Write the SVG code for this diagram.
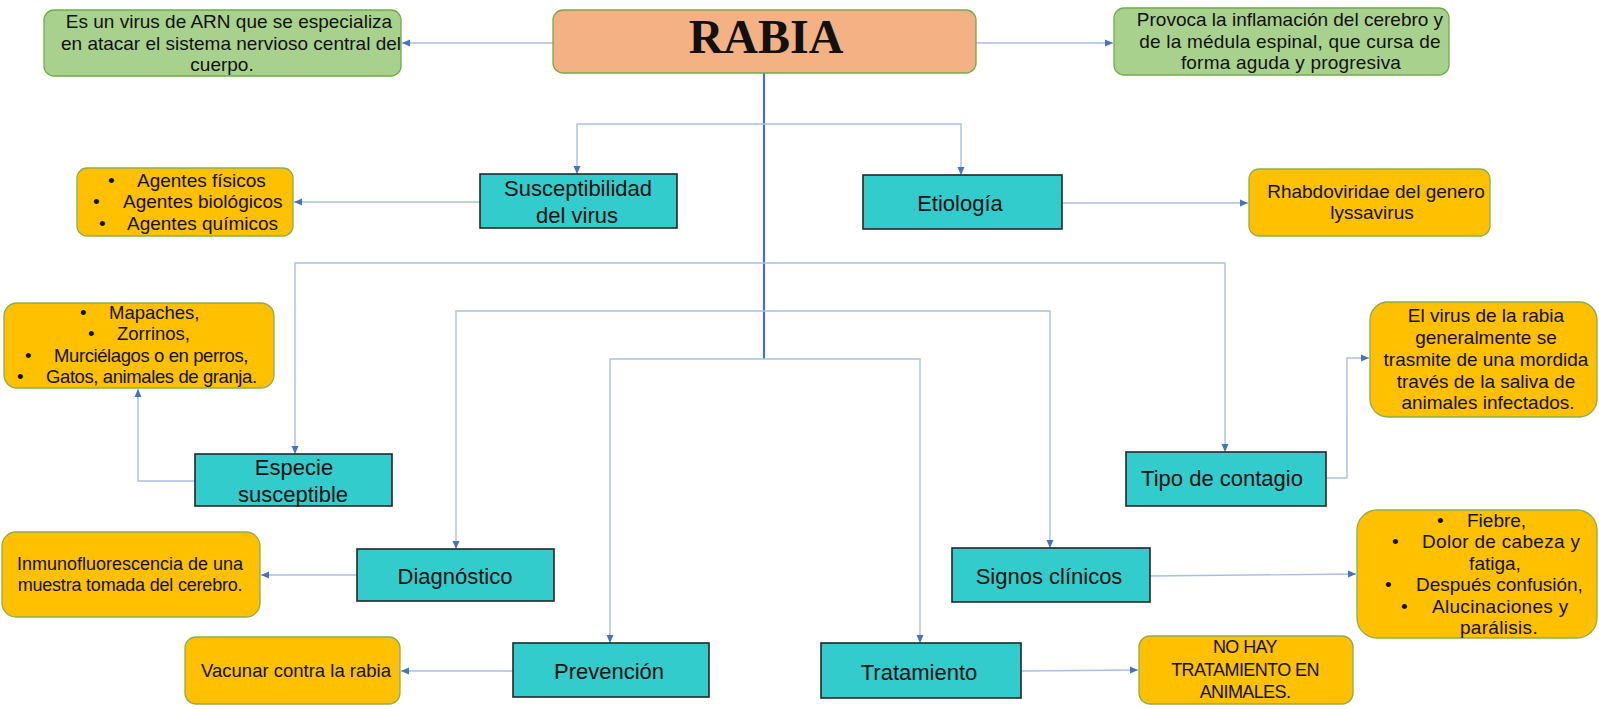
<svg xmlns="http://www.w3.org/2000/svg" width="1599" height="709" viewBox="0 0 1599 709">
<style>
text{font-family:"Liberation Sans",Arial,sans-serif;fill:#111}
.g{fill:#A9D18E;stroke:#70AD47;stroke-width:1.3}
.o{fill:#FFC000;stroke:#8AAE4E;stroke-width:1.3}
.t{fill:#33CCCC;stroke:#262626;stroke-width:1.6}
.r{fill:#F4B183;stroke:#70AD47;stroke-width:1.3}
.tt{font-size:22px;text-anchor:middle}
.s19{font-size:19px}
.s18{font-size:18.5px}
.m{text-anchor:middle}
.c{fill:none;stroke:#A9BEE6;stroke-width:1.4}
.trunk{fill:none;stroke:#4472C4;stroke-width:2.2}
</style>
<defs>
<marker id="ah" markerUnits="userSpaceOnUse" markerWidth="9" markerHeight="8" refX="8" refY="4" orient="auto">
<path d="M0,0.5 L8,4 L0,7.5 z" fill="#4472C4"/>
</marker>
</defs>
<rect width="1599" height="709" fill="#fff"/>
<g id="connectors">
<path class="trunk" d="M764,73 V359"/>
<path class="c" d="M553,43 H402" marker-end="url(#ah)"/>
<path class="c" d="M976,43 H1113" marker-end="url(#ah)"/>
<path class="c" d="M764,124 H577 V174" marker-end="url(#ah)"/>
<path class="c" d="M764,124 H961 V175" marker-end="url(#ah)"/>
<path class="c" d="M764,263 H295 V454" marker-end="url(#ah)"/>
<path class="c" d="M764,263 H1225 V452" marker-end="url(#ah)"/>
<path class="c" d="M764,311 H456 V549" marker-end="url(#ah)"/>
<path class="c" d="M764,311 H1050 V548" marker-end="url(#ah)"/>
<path class="c" d="M764,359 H610 V643" marker-end="url(#ah)"/>
<path class="c" d="M764,359 H920 V643" marker-end="url(#ah)"/>
<path class="c" d="M480,202 H294" marker-end="url(#ah)"/>
<path class="c" d="M1062,203 H1248" marker-end="url(#ah)"/>
<path class="c" d="M195,481 H138 V389" marker-end="url(#ah)"/>
<path class="c" d="M1326,478 H1347 V358 H1369" marker-end="url(#ah)"/>
<path class="c" d="M357,575 H261" marker-end="url(#ah)"/>
<path class="c" d="M1150,576 L1356,574" marker-end="url(#ah)"/>
<path class="c" d="M513,671 H401" marker-end="url(#ah)"/>
<path class="c" d="M1021,671 L1138,670" marker-end="url(#ah)"/>
</g>
<g id="rabia">
<rect class="r" x="553" y="10" width="423" height="63" rx="10"/>
<text x="766" y="53" text-anchor="middle" style="font-family:'Liberation Serif','Times New Roman',serif;font-weight:bold;font-size:48px" fill="#000">RABIA</text>
</g>
<g id="def-left">
<rect class="g" x="44" y="10" width="357" height="66" rx="10"/>
<text class="s19 m" x="229" y="28">Es un virus de ARN que se especializa</text>
<text class="s19 m" x="231" y="50">en atacar el sistema nervioso central del</text>
<text class="s19 m" x="222" y="71">cuerpo.</text>
</g>
<g id="def-right">
<rect class="g" x="1114" y="8" width="335" height="67" rx="10"/>
<text class="s19 m" x="1290" y="26">Provoca la inflamación del cerebro y</text>
<text class="s19 m" x="1290" y="48" letter-spacing="0.2">de la médula espinal, que cursa de</text>
<text class="s19 m" x="1291" y="69" letter-spacing="0.2">forma aguda y progresiva</text>
</g>
<g id="susceptibilidad">
<rect class="t" x="480" y="174" width="197" height="54"/>
<text class="tt" x="578" y="196">Susceptibilidad</text>
<text class="tt" x="577" y="223">del virus</text>
</g>
<g id="agentes">
<rect class="o" x="77" y="168" width="216" height="68" rx="10"/>
<text class="s19" x="108" y="187">•</text><text class="s19" x="137" y="187">Agentes físicos</text>
<text class="s19" x="93" y="208">•</text><text class="s19" x="123" y="208">Agentes biológicos</text>
<text class="s19" x="99" y="230">•</text><text class="s19" x="127" y="230">Agentes químicos</text>
</g>
<g id="etiologia">
<rect class="t" x="863" y="175" width="199" height="54"/>
<text class="tt" x="960" y="211">Etiología</text>
</g>
<g id="rhabdo">
<rect class="o" x="1249" y="169" width="241" height="67" rx="10"/>
<text class="s19 m" x="1376" y="198">Rhabdoviridae del genero</text>
<text class="s19 m" x="1372" y="219">lyssavirus</text>
</g>
<g id="especies">
<rect class="o" x="4" y="303" width="270" height="85" rx="13"/>
<text class="s18" x="80" y="319">•</text><text class="s18" x="109" y="319">Mapaches,</text>
<text class="s18" x="88" y="340">•</text><text class="s18" x="117" y="340">Zorrinos,</text>
<text class="s18" x="25" y="362">•</text><text class="s18" x="54" y="362" letter-spacing="-0.4">Murciélagos o en perros,</text>
<text class="s18" x="17" y="383">•</text><text class="s18" x="46" y="383" letter-spacing="-0.4">Gatos, animales de granja.</text>
</g>
<g id="especie-susceptible">
<rect class="t" x="195" y="454" width="197" height="52"/>
<text class="tt" x="294" y="475">Especie</text>
<text class="tt" x="293" y="502">susceptible</text>
</g>
<g id="tipo-contagio">
<rect class="t" x="1126" y="452" width="200" height="54"/>
<text class="tt" x="1222" y="486">Tipo de contagio</text>
</g>
<g id="contagio-texto">
<rect class="o" x="1370" y="302" width="227" height="115" rx="18"/>
<text class="s19 m" x="1486" y="322">El virus de la rabia</text>
<text class="s19 m" x="1486" y="344">generalmente se</text>
<text class="s19 m" x="1486" y="366">trasmite de una mordida</text>
<text class="s19 m" x="1486" y="388">través de la saliva de</text>
<text class="s19 m" x="1488" y="409">animales infectados.</text>
</g>
<g id="diagnostico">
<rect class="t" x="357" y="549" width="197" height="52"/>
<text class="tt" x="455" y="584">Diagnóstico</text>
</g>
<g id="inmuno">
<rect class="o" x="2" y="532" width="258" height="85" rx="14"/>
<text x="130" y="570" text-anchor="middle" style="font-size:18px">Inmunofluorescencia de una</text>
<text x="130" y="591" text-anchor="middle" style="font-size:18px" letter-spacing="-0.2">muestra tomada del cerebro.</text>
</g>
<g id="signos">
<rect class="t" x="952" y="548" width="198" height="54"/>
<text class="tt" x="1049" y="584">Signos clínicos</text>
</g>
<g id="sintomas">
<rect class="o" x="1357" y="510" width="240" height="128" rx="20"/>
<text class="s19" x="1437" y="527">•</text><text class="s19" x="1467" y="527">Fiebre,</text>
<text class="s19" x="1392" y="548">•</text><text class="s19" x="1422" y="548" letter-spacing="0.3">Dolor de cabeza y</text>
<text class="s19 m" x="1495" y="570">fatiga,</text>
<text class="s19" x="1385" y="591">•</text><text class="s19" x="1416" y="591">Después confusión,</text>
<text class="s19" x="1401" y="613">•</text><text class="s19" x="1432" y="613" letter-spacing="0.3">Alucinaciones y</text>
<text class="s19 m" x="1499" y="634" letter-spacing="0.3">parálisis.</text>
</g>
<g id="prevencion">
<rect class="t" x="513" y="643" width="196" height="54"/>
<text class="tt" x="609" y="679">Prevención</text>
</g>
<g id="vacunar">
<rect class="o" x="185" y="637" width="215" height="67" rx="11"/>
<text class="s18 m" x="296" y="677">Vacunar contra la rabia</text>
</g>
<g id="tratamiento">
<rect class="t" x="821" y="643" width="200" height="55"/>
<text class="tt" x="919" y="680">Tratamiento</text>
</g>
<g id="no-tratamiento">
<rect class="o" x="1139" y="636" width="214" height="68" rx="11"/>
<text x="1245" y="653" text-anchor="middle" style="font-size:18px" letter-spacing="-0.6">NO HAY</text>
<text x="1245" y="676" text-anchor="middle" style="font-size:18px" letter-spacing="-0.6">TRATAMIENTO EN</text>
<text x="1245" y="698" text-anchor="middle" style="font-size:18px" letter-spacing="-0.6">ANIMALES.</text>
</g>
</svg>
